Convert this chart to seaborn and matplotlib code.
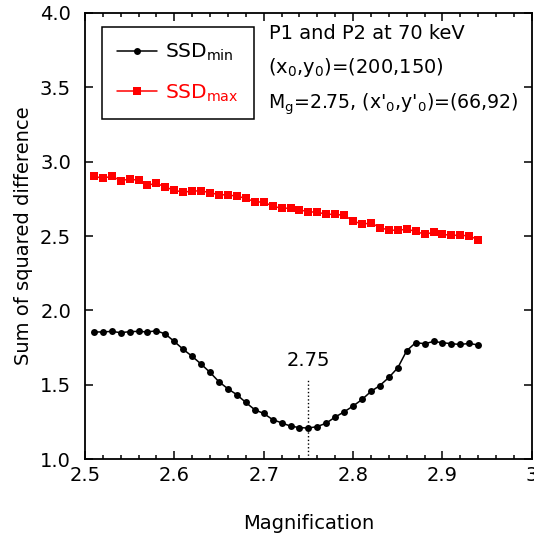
import numpy as np
import pandas as pd
import matplotlib
matplotlib.use("Agg")
import matplotlib.pyplot as plt
import seaborn as sns
from matplotlib.ticker import MultipleLocator

# magnification grid (step 0.01)
magnification = [round(2.51 + 0.01 * i, 2) for i in range(44)]

ssd_min = [1.855, 1.855, 1.859, 1.850, 1.857, 1.859, 1.855, 1.863, 1.841, 1.791,
           1.738, 1.691, 1.639, 1.583, 1.520, 1.473, 1.433, 1.381, 1.332, 1.307,
           1.266, 1.244, 1.222, 1.212, 1.209, 1.219, 1.242, 1.283, 1.318, 1.357,
           1.401, 1.455, 1.495, 1.549, 1.614, 1.729, 1.783, 1.776, 1.791, 1.783,
           1.776, 1.771, 1.778, 1.767]

ssd_max = [2.902, 2.888, 2.902, 2.873, 2.882, 2.875, 2.841, 2.855, 2.828, 2.808,
           2.794, 2.803, 2.803, 2.792, 2.777, 2.777, 2.767, 2.754, 2.729, 2.729,
           2.700, 2.687, 2.687, 2.676, 2.663, 2.660, 2.646, 2.646, 2.639, 2.602,
           2.579, 2.588, 2.557, 2.539, 2.539, 2.545, 2.532, 2.511, 2.525, 2.511,
           2.505, 2.505, 2.501, 2.474]

best_mag = 2.75

sns.set_theme(style="ticks")
plt.rcParams.update({
    'font.family': ['DejaVu Sans'],
    'mathtext.fontset': 'dejavusans',
    'font.size': 14,
    'text.color': 'black',
    'axes.labelcolor': 'black',
    'axes.edgecolor': 'black',
    'axes.linewidth': 1.3,
    'xtick.direction': 'in',
    'ytick.direction': 'in',
    'xtick.top': True,
    'ytick.right': True,
    'xtick.major.size': 6,
    'ytick.major.size': 6,
    'xtick.minor.size': 3,
    'xtick.labelsize': 14,
    'ytick.labelsize': 14,
})

fig = plt.figure(figsize=(5.34, 5.37), dpi=100)
ax = fig.add_axes([0.159, 0.145, 0.837, 0.831])

df = pd.DataFrame({"mag": magnification, "min": ssd_min, "max": ssd_max})

sns.lineplot(data=df, x="mag", y="min", ax=ax, color="black", marker="o",
             markersize=5, markeredgewidth=0, linewidth=1.1,
             label=r"SSD$_{\rm min}$")
sns.lineplot(data=df, x="mag", y="max", ax=ax, color="#ff0000", marker="s",
             markersize=5.5, markeredgewidth=0, linewidth=1.1,
             label=r"SSD$_{\rm max}$")

ax.plot([best_mag, best_mag], [1.0, 1.54], color="black", linestyle=":", linewidth=1)
ax.text(best_mag, 1.628, "2.75", ha="center", va="baseline", fontsize=14)

ax.text(2.706, 3.822, "P1 and P2 at 70 keV", ha="left", va="baseline", fontsize=14)
ax.text(2.705, 3.597, r"(x$_{\rm 0}$,y$_{\rm 0}$)=(200,150)", ha="left", va="baseline", fontsize=14)
ax.text(2.705, 3.355, r"M$_{\rm g}$=2.75, (x'$_{\rm 0}$,y'$_{\rm 0}$)=(66,92)",
        ha="left", va="baseline", fontsize=13.6)

ax.set_xlim(2.5, 3.0)
ax.set_ylim(1.0, 4.0)
ax.xaxis.set_major_locator(MultipleLocator(0.1))
ax.xaxis.set_minor_locator(MultipleLocator(0.02))
ax.yaxis.set_major_locator(MultipleLocator(0.5))
ax.xaxis.set_major_formatter(plt.FuncFormatter(lambda v, p: f"{v:g}" if v >= 3 else f"{v:.1f}"))
ax.yaxis.set_major_formatter(plt.FuncFormatter(lambda v, p: f"{v:.1f}"))
ax.tick_params(which="both", width=1.1, colors="black")
ax.tick_params(axis="x", pad=5)
ax.tick_params(axis="y", pad=10)

ax.set_xlabel("Magnification", fontsize=14, labelpad=21)
ax.set_ylabel("Sum of squared difference", fontsize=14, labelpad=5)

leg = ax.legend(loc="upper left", bbox_to_anchor=(0.038, 0.969), borderaxespad=0,
                frameon=True, fancybox=False, edgecolor="black", framealpha=1,
                labelcolor="linecolor", fontsize=14.5, handlelength=2.0,
                borderpad=0.75, labelspacing=0.95, handletextpad=0.4)
leg.get_frame().set_linewidth(1.1)

fig.savefig("out.png", dpi=100)
